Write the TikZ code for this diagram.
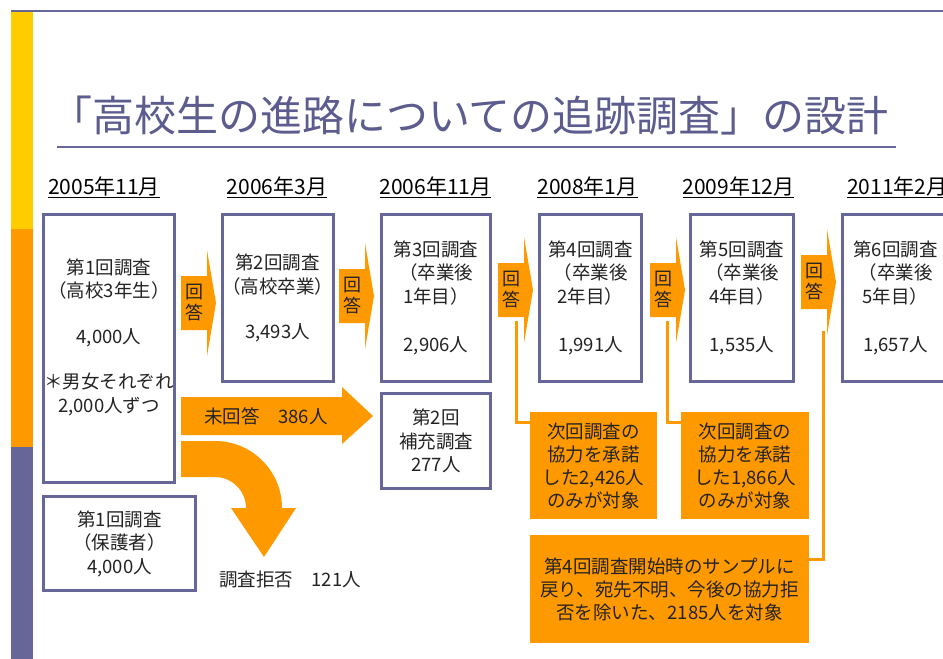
\documentclass[tikz,border=0pt]{standalone}
\usepackage{fontspec}
\setmainfont{Noto Sans CJK JP}
\definecolor{slate}{RGB}{102,102,153}
\definecolor{titleblue}{RGB}{92,92,142}
\definecolor{barorange}{RGB}{255,153,0}
\definecolor{baryellow}{RGB}{255,204,0}
\definecolor{inkgray}{RGB}{35,35,35}

\newcommand{\answerArrow}[3]{%
	\fill[barorange] (#2,#3) -- ++(26,0) -- ++(0,-26) -- ++(9,53) -- ++(-9,53) -- ++(0,-26) -- ++(-26,0) -- cycle;
	\node (#1) at (#2+13,#3+27)[answer] {回\\答};
}

\begin{document}
\begin{tikzpicture} [x=1pt,y=-1pt,
	survey/.style={shape=rectangle,draw=slate,line width=3pt,fill=white,align=center,text=inkgray,inner sep=0pt,font=\fontsize{18.5}{23.5}\selectfont},
	note/.style={shape=rectangle,fill=barorange,align=center,text=inkgray,inner sep=0pt,font=\fontsize{18.5}{23}\selectfont},
	answer/.style={align=center,text=inkgray,inner sep=0pt,font=\fontsize{18}{21}\selectfont},
	date/.style={anchor=base,inner sep=0pt,font=\fontsize{21}{21}\selectfont},
	plain/.style={text=inkgray,inner sep=0pt,font=\fontsize{18.5}{23}\selectfont},
	link/.style={draw=barorange,line width=3pt}]
	\clip (0,0) rectangle (943,659);
	\fill[white] (0,0) rectangle (943,659);

	\fill[baryellow] (11,11) rectangle (33,229);
	\fill[barorange] (11,229) rectangle (33,447);
	\fill[slate] (11,447) rectangle (33,659);
	\draw[slate,line width=2pt] (11,11) -- (943,11);

	\node (titleNode) at (50,116)[anchor=west,inner sep=0pt,text=titleblue,font=\fontsize{42}{42}\selectfont] {「高校生の進路についての追跡調査」の設計};
	\draw[slate,line width=2pt] (57,147) -- (896,147);

	\node (date1Node) at (104,194)[date] {\underline{2005年11月}};
	\node (date2Node) at (277,194)[date] {\underline{2006年3月}};
	\node (date3Node) at (435.5,194)[date] {\underline{2006年11月}};
	\node (date4Node) at (587.5,194)[date] {\underline{2008年1月}};
	\node (date5Node) at (738.5,194)[date] {\underline{2009年12月}};
	\node (date6Node) at (847,194)[date,anchor=base west] {\underline{2011年2月}};

	\node (survey1Node) at (109,348.5)[survey,minimum width=131pt,minimum height=268pt] {};
	\node (survey1Text) at (109,337)[survey,draw=none,fill=none] {第1回調査\\（高校3年生）\\[22pt]4,000人\\[22pt]＊男女それぞれ\\2,000人ずつ};
	\node (survey2Node) at (277.5,298)[survey,minimum width=110pt,minimum height=167pt] {第2回調査\\（高校卒業）\\[22pt]3,493人};
	\node (survey3Node) at (436,298)[survey,minimum width=109pt,minimum height=167pt] {第3回調査\\（卒業後\\1年目）\\[25pt]2,906人};
	\node (survey4Node) at (590.5,298)[survey,minimum width=102pt,minimum height=167pt] {第4回調査\\（卒業後\\2年目）\\[25pt]1,991人};
	\node (survey5Node) at (742,298)[survey,minimum width=103pt,minimum height=167pt] {第5回調査\\（卒業後\\4年目）\\[25pt]1,535人};
	\node (survey6Node) at (895.5,298)[survey,minimum width=106pt,minimum height=167pt] {第6回調査\\（卒業後\\5年目）\\[25pt]1,657人};
	\node (supplementNode) at (436,441)[survey,minimum width=109pt,minimum height=95pt] {第2回\\補充調査\\277人};
	\node (parentNode) at (119.5,543.5)[survey,minimum width=152pt,minimum height=94pt] {第1回調査\\（保護者）\\4,000人};

	\answerArrow{answer1Node}{181}{276}
	\answerArrow{answer2Node}{339}{269}
	\answerArrow{answer3Node}{498}{263}
	\answerArrow{answer4Node}{650}{263}
	\answerArrow{answer5Node}{801}{255}

	\fill[barorange] (181,397) -- (342,397) -- (342,387) -- (373,416) -- (342,444) -- (342,435) -- (181,435) -- cycle;
	\node (noReplyNode) at (266,416)[plain] {未回答　386人};

	\fill[barorange] (181,441) -- (215,441) .. controls (252,441) and (282,471) .. (282,508) -- (296,508) -- (264,557) -- (231,508) -- (246,508) .. controls (246,491) and (232,477) .. (215,477) -- (181,477) -- cycle;
	\node (refusalNode) at (219,580)[plain,anchor=west] {調査拒否　121人};

	\node (note1Node) at (593.5,465.5)[note,minimum width=127pt,minimum height=107pt] {次回調査の\\協力を承諾\\した2,426人\\のみが対象};
	\node (note2Node) at (745,465.5)[note,minimum width=128pt,minimum height=107pt] {次回調査の\\協力を承諾\\した1,866人\\のみが対象};
	\node (note3Node) at (669.5,589)[note,minimum width=279pt,minimum height=108pt] {第4回調査開始時のサンプルに\\戻り、宛先不明、今後の協力拒\\否を除いた、2185人を対象};

	\coordinate (drop3) at (516,321);
	\coordinate (drop4) at (667,321);
	\coordinate (drop5) at (823,331);
	\draw[link] (drop3) |- ([yshift=-11pt]note1Node.north west);
	\draw[link] (drop4) |- ([yshift=-11pt]note2Node.north west);
	\draw[link] (drop5) |- ([yshift=-25pt]note3Node.north east);
\end{tikzpicture}
\end{document}
